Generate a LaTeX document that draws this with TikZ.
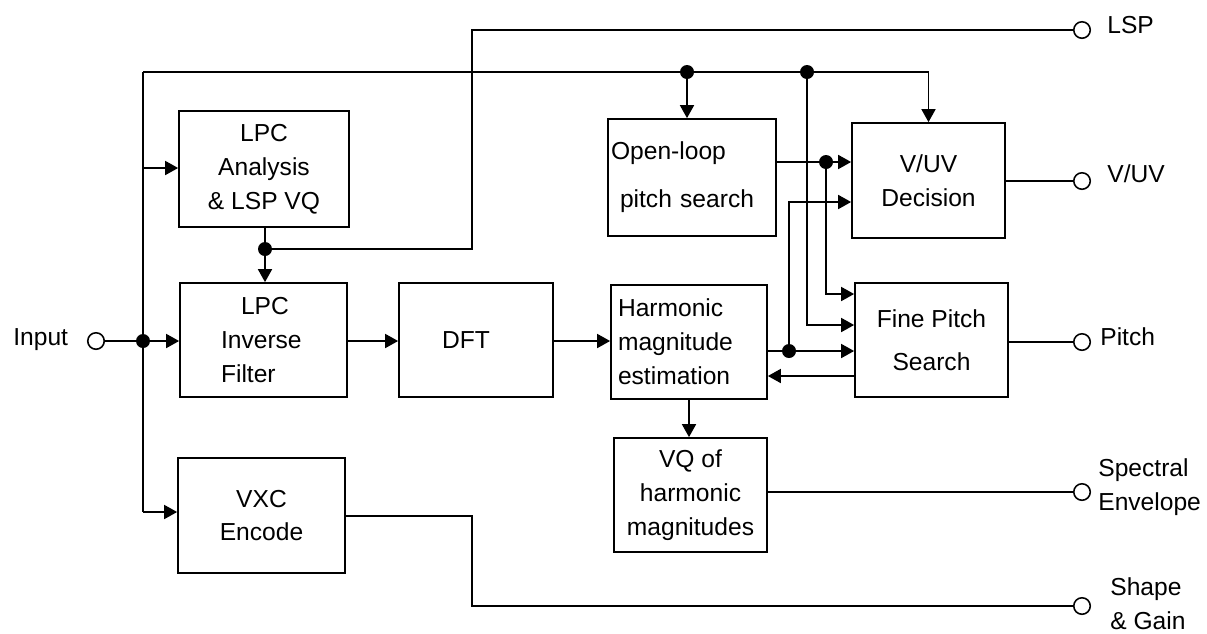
\documentclass[tikz,border=0pt]{standalone}
\usepackage{fontspec}
\setmainfont{Liberation Sans}
\usetikzlibrary{arrows.meta}

\tikzset{
  blk/.style={draw, line width=1pt, inner sep=0pt},
  lbl/.style={inner sep=0pt, align=left},
  wire/.style={line width=1pt},
  owire/.style={line width=0.8pt},
  arr/.style={line width=1pt, -{Triangle[length=0.26cm,width=0.28cm]}},
  term/.style={draw, circle, line width=0.9pt, minimum size=0.33cm, inner sep=0pt},
  dot/.style={circle, fill, inner sep=0pt, minimum size=0.28cm},
}

\begin{document}
\begin{tikzpicture}[x=0.02cm, y=-0.02cm, font=\fontsize{14}{19.3}\selectfont]

    \useasboundingbox (0,0) rectangle (1207,633);

    % BLOCKS
    \node[blk, minimum width=3.4cm, minimum height=2.32cm, align=center] (ana) at (264,169) {LPC\\Analysis\\\& LSP VQ};
    \node[blk, minimum width=3.34cm, minimum height=2.28cm, text width=1.7cm, align=left] (inv) at (263.5,340) {\hspace*{0.4cm}LPC\\Inverse\\Filter};
    \node[blk, minimum width=3.08cm, minimum height=2.28cm, text width=1.36cm, align=left] (dft) at (476,340) {DFT};
    \node[blk, minimum width=3.12cm, minimum height=2.28cm, text width=2.84cm, align=left] (harm) at (689,342) {Harmonic\\magnitude\\estimation};
    \node[blk, minimum width=3.06cm, minimum height=2.28cm, align=center] (vq) at (690.5,495) {VQ of\\harmonic\\magnitudes};
    \node[blk, minimum width=3.34cm, minimum height=2.3cm, align=center] (vxc) at (261.5,515.5) {VXC\\Encode};
    \node[blk, minimum width=3.36cm, minimum height=2.34cm, text width=3.24cm, align=left] (ol) at (692,177.5) {Open-loop\\[0.28cm]\hspace*{0.18cm}pitch search};
    \node[blk, minimum width=3.06cm, minimum height=2.3cm, align=center] (vuv) at (928.5,180.5) {V/UV\\Decision};
    \node[blk, minimum width=3.06cm, minimum height=2.28cm, align=center] (fp) at (931.5,340) {Fine Pitch\\[0.18cm]Search};

    % TERMINALS
    \node[term] (tin) at (96,341) {};
    \node[term] (tlsp) at (1082,30) {};
    \node[term] (tvuv) at (1082,181) {};
    \node[term] (tpitch) at (1082,342) {};
    \node[term] (tspec) at (1082,492) {};
    \node[term] (tshape) at (1082,606) {};

    \node[lbl, anchor=base west] (linput) at (13,345) {Input};
    \node[lbl, anchor=base west] (llsp) at (1107,33) {LSP};
    \node[lbl, anchor=base west] (lvuv) at (1107,182) {V/UV};
    \node[lbl, anchor=base west] (lpitch) at (1100,345) {Pitch};
    \node[lbl, anchor=west] (lspec) at (1098,487) {Spectral\\Envelope};
    \node[lbl, anchor=west] (lshape) at (1110,603.5) {Shape\\\& Gain};

    % JUNCTIONS
    \node[dot] (jin) at (143,341) {};
    \node[dot] (jl) at (265,249) {};
    \node[dot] (j1) at (687,72) {};
    \node[dot] (j2) at (807,72) {};
    \node[dot] (jo) at (826,162) {};
    \node[dot] (jh) at (789,351) {};

    \coordinate (btop) at (143,72);
    \coordinate (bana) at (143,168);
    \coordinate (bbot) at (143,512);
    \coordinate (c2) at (807,325);
    \coordinate (c3) at (826,294);
    \coordinate (c4) at (789,202);
    \coordinate (c5) at (855,376);
    \coordinate (c6) at (472,249);
    \coordinate (c7) at (472,30);
    \coordinate (c8) at (472,516);
    \coordinate (c9) at (472,606);

    % INPUT BUS
    \draw[owire] (tin) -- (jin);
    \draw[arr] (jin) -- (inv.west |- jin);
    \draw[wire] (btop) -- (bbot);
    \draw[arr] (bana) -- (ana.west |- bana);
    \draw[arr] (bbot) -- (vxc.west |- bbot);
    \draw[arr] (btop) -- (vuv.north |- btop) -- (vuv.north);
    \draw[arr] (j1) -- (j1 |- ol.north);
    \draw[arr] (j2) -- (c2) -- (c2 -| fp.west);

    % LPC / LSP
    \draw[wire] (ana.south -| jl) -- (jl);
    \draw[arr] (jl) -- (jl |- inv.north);
    \draw[wire] (jl) -- (c6) -- (c7) -- (tlsp);

    % MAIN CHAIN
    \draw[arr] (inv.east |- jin) -- (dft.west |- jin);
    \draw[arr] (dft.east |- jin) -- (harm.west |- jin);
    \draw[arr] (harm.south) -- (harm.south |- vq.north);

    % PITCH AND V/UV
    \draw[arr] (ol.east |- jo) -- (jo -| vuv.west);
    \draw[arr] (jo) -- (c3) -- (c3 -| fp.west);
    \draw[arr] (harm.east |- jh) -- (jh -| fp.west);
    \draw[arr] (jh) -- (c4) -- (c4 -| vuv.west);
    \draw[arr] (c5 -| fp.west) -- (c5 -| harm.east);

    % OUTPUTS
    \draw[owire] (vuv.east |- tvuv) -- (tvuv);
    \draw[owire] (fp.east |- tpitch) -- (tpitch);
    \draw[owire] (vq.east |- tspec) -- (tspec);
    \draw[owire] (vxc.east |- c8) -- (c8) -- (c9) -- (tshape);

\end{tikzpicture}
\end{document}
